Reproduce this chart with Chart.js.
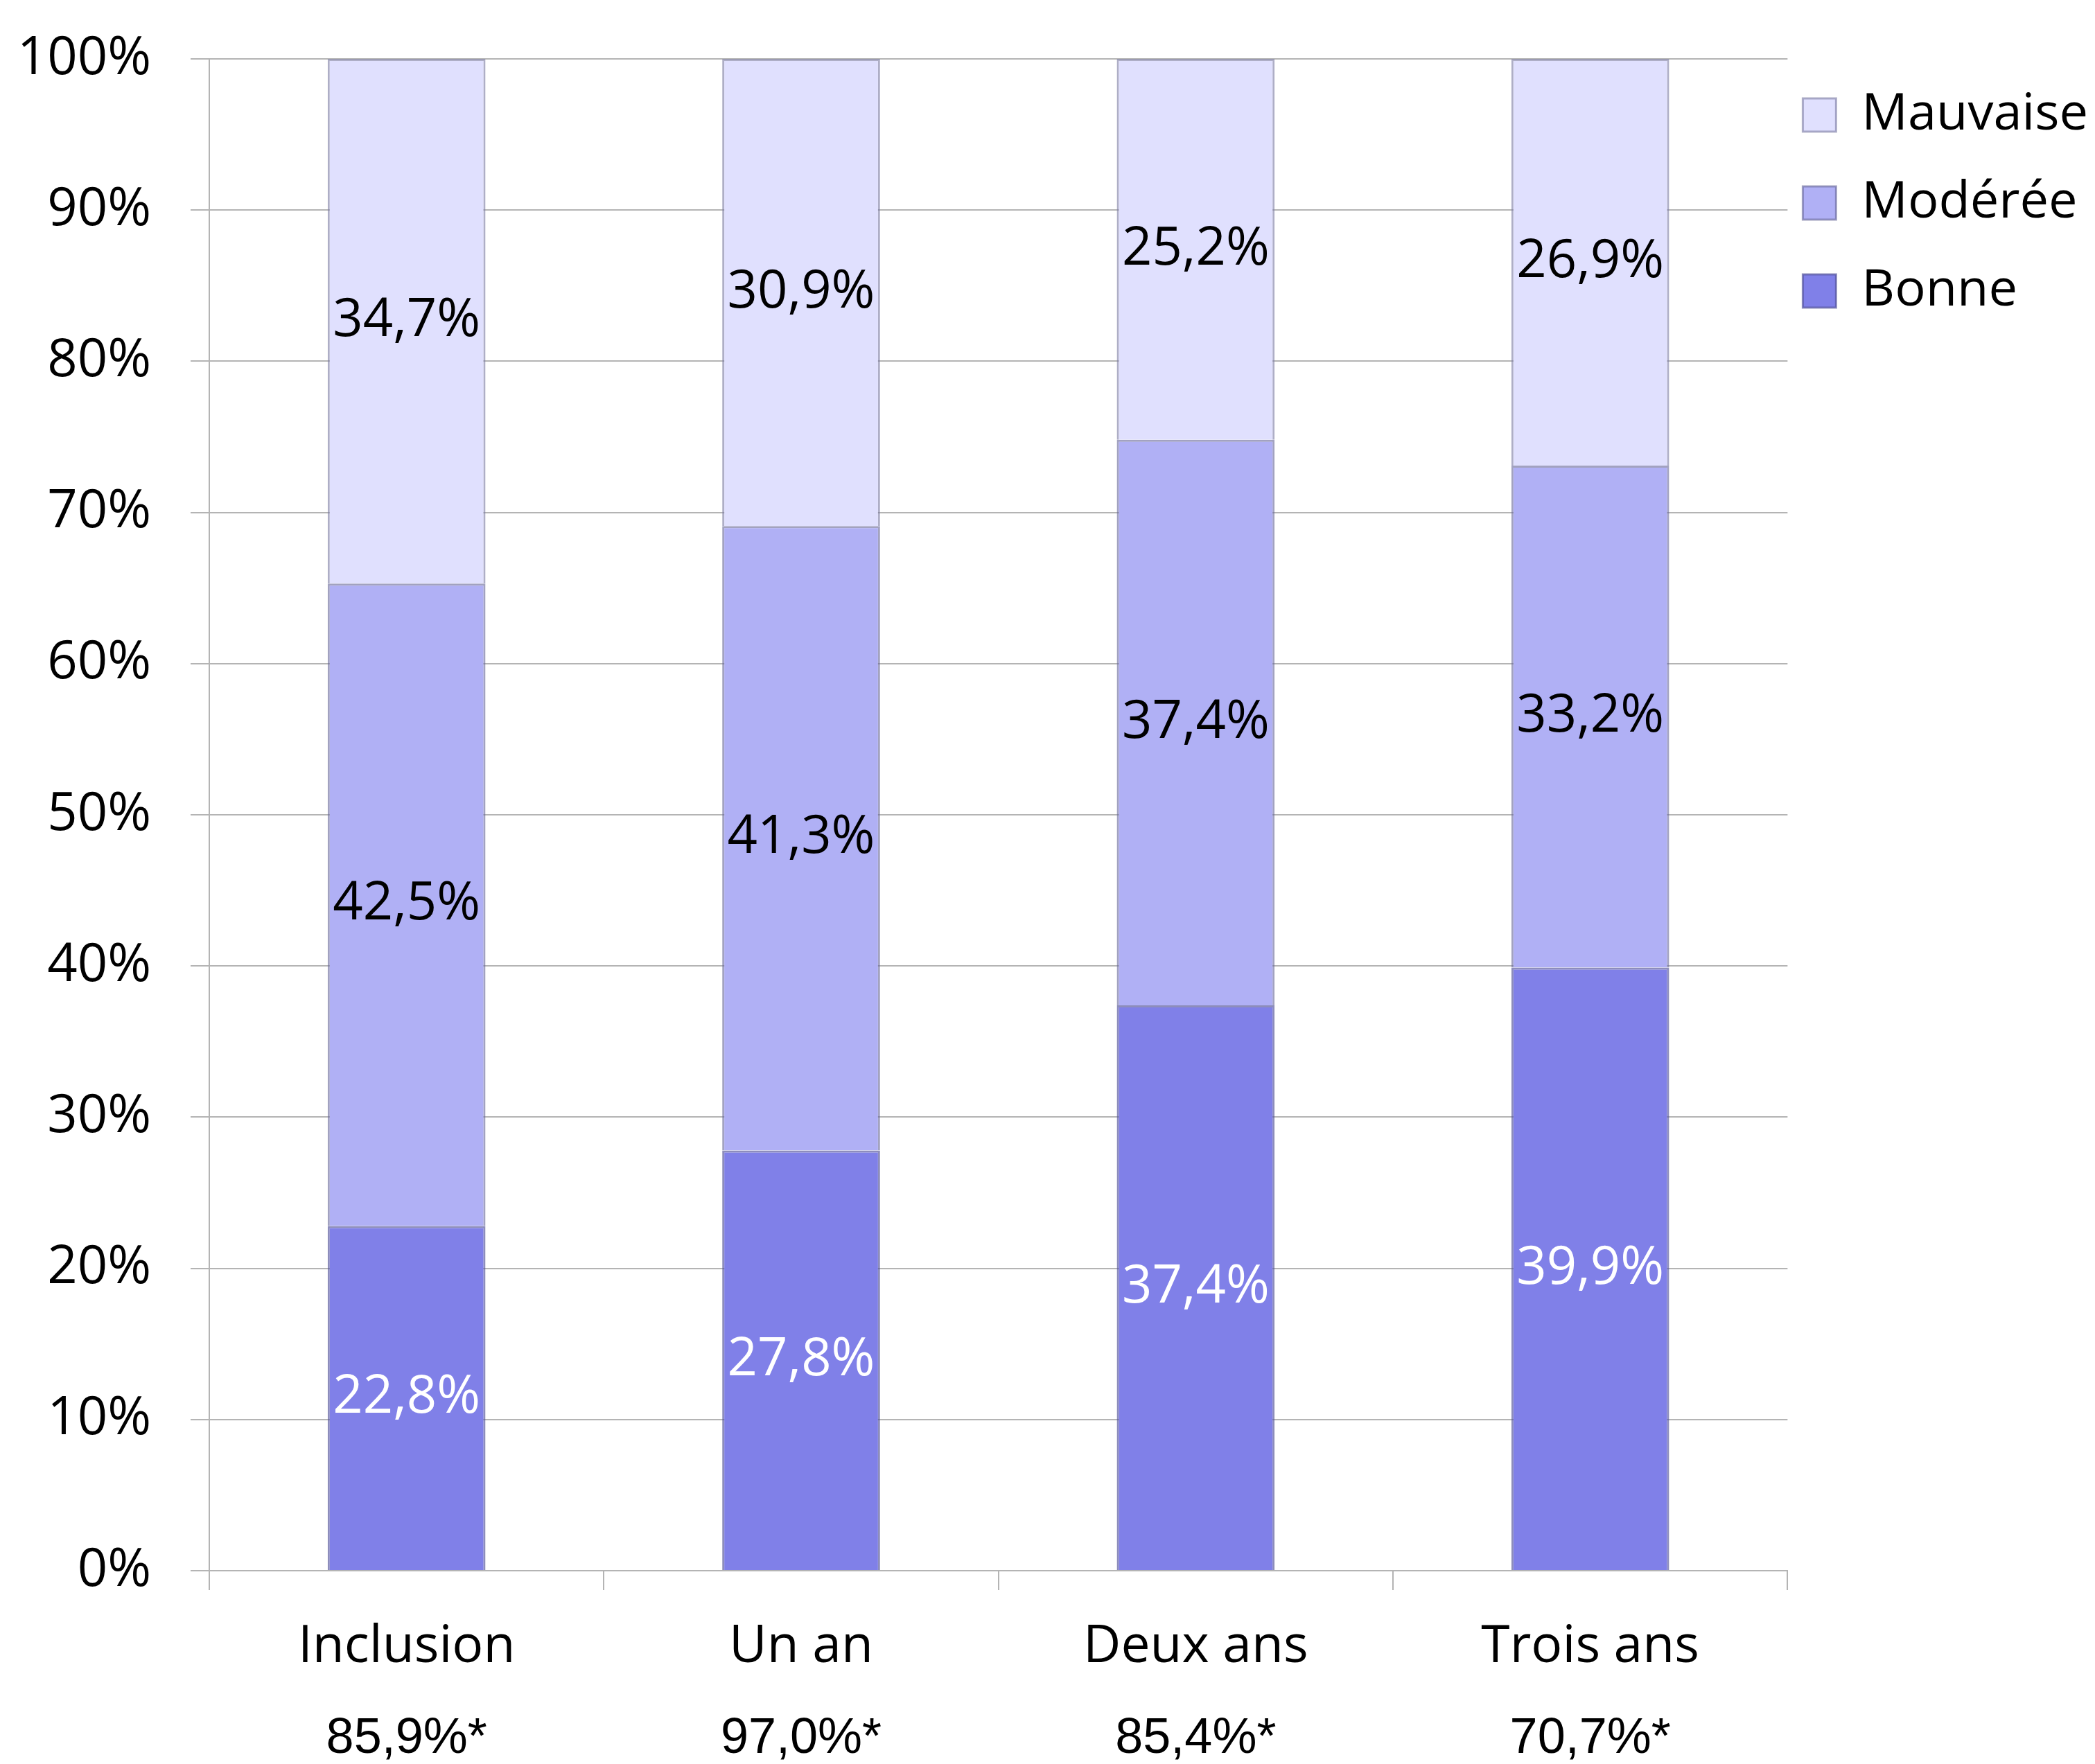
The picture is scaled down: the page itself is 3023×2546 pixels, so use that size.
<!DOCTYPE html>
<html>
<head>
<meta charset="utf-8">
<script src="https://cdn.jsdelivr.net/npm/chart.js@4/dist/chart.umd.min.js"></script>
<style>
  html,body{margin:0;padding:0;background:#fff;}
  #wrap{width:3023px;height:2546px;}
</style>
</head>
<body>
<div id="wrap"><canvas id="c" width="3023" height="2546"></canvas></div>
<script>
// données
const categories = ['Inclusion', 'Un an', 'Deux ans', 'Trois ans'];
const taux = ['85,9%*', '97,0%*', '85,4%*', '70,7%*'];
const bonne = [22.8, 27.8, 37.4, 39.9];
const moderee = [42.5, 41.3, 37.4, 33.2];
const mauvaise = [34.7, 30.9, 25.2, 26.9];
const yTicks = [0, 10, 20, 30, 40, 50, 60, 70, 80, 90, 100];

const fmt = v => v.toFixed(1).replace('.', ',') + '%';
const GRID = '#b4b4b4';

// étiquettes au centre de chaque segment
const segLabels = {
  id: 'segLabels',
  afterDatasetsDraw(chart){
    const ctx = chart.ctx;
    ctx.save();
    ctx.font = '76px "Open Sans"';
    ctx.textAlign = 'center';
    ctx.textBaseline = 'middle';
    chart.data.datasets.forEach((ds, i) => {
      const meta = chart.getDatasetMeta(i);
      if (meta.hidden) return;
      meta.data.forEach((bar, j) => {
        ctx.fillStyle = ds.labelColor;
        ctx.fillText(fmt(ds.data[j]), bar.x, (bar.y + bar.base) / 2);
      });
    });
    ctx.restore();
  }
};

// tailles d'axes fixes (pas de marge auto autour des étiquettes)
const fixBox = (w, h) => scale => {
  if (w != null) scale.width = w;
  if (h != null) scale.height = h;
  scale.paddingTop = 0; scale.paddingBottom = 0;
  scale.paddingLeft = 0; scale.paddingRight = 0;
};

Chart.defaults.font.family = '"Open Sans", sans-serif';
Chart.defaults.color = '#000';

new Chart(document.getElementById('c'), {
  type: 'bar',
  data: {
    labels: categories,
    datasets: [
      {label: 'Bonne', data: bonne, backgroundColor: '#8080e8', borderColor: 'rgba(80,80,150,0.65)', borderWidth: 3, labelColor: '#fff'},
      {label: 'Modérée', data: moderee, backgroundColor: '#b0b0f5', borderColor: 'rgba(100,100,150,0.6)', borderWidth: 3, labelColor: '#000'},
      {label: 'Mauvaise', data: mauvaise, backgroundColor: '#e0e0fe', borderColor: 'rgba(120,120,160,0.6)', borderWidth: 3, labelColor: '#000'}
    ]
  },
  options: {
    responsive: false,
    animation: false,
    devicePixelRatio: 1,
    categoryPercentage: 0.4,
    barPercentage: 1,
    layout: {padding: {left: 0, top: 85, right: 0, bottom: 0}},
    plugins: {
      tooltip: {enabled: false},
      legend: {
        position: 'right',
        align: 'start',
        reverse: true,
        title: {display: true, text: ' ', font: {size: 20, lineHeight: 1.1}, padding: 0},
        labels: {
          font: {size: 74, lineHeight: 1.419},
          boxWidth: 48,
          boxHeight: 48,
          padding: 22,
          color: '#000',
          generateLabels: chart => Chart.defaults.plugins.legend.labels.generateLabels(chart).map(l => Object.assign(l, {text: [l.text]}))
        }
      }
    },
    scales: {
      x: {
        stacked: true,
        weight: 0,
        afterFit: fixBox(null, 155),
        grid: {display: true, drawOnChartArea: false, drawTicks: true, tickLength: 28, color: GRID, lineWidth: 2},
        border: {display: true, color: GRID, width: 2},
        ticks: {font: {size: 75}, padding: 38, color: '#000'}
      },
      x2: {
        type: 'category',
        labels: taux,
        position: 'bottom',
        weight: 1,
        afterFit: fixBox(null, 124),
        grid: {display: false, drawTicks: false},
        border: {display: false},
        ticks: {font: {family: '"Liberation Sans", Arial, sans-serif', size: 72, lineHeight: 1}, padding: 52, color: '#000'}
      },
      y: {
        stacked: true,
        min: 0,
        max: 100,
        afterFit: fixBox(302, null),
        afterBuildTicks: axis => { axis.ticks = yTicks.map(v => ({value: v})); },
        grid: {color: GRID, lineWidth: 2, tickLength: 27},
        border: {display: true, color: GRID, width: 2},
        ticks: {font: {size: 76}, padding: 57, color: '#000', callback: v => v + '%'}
      }
    }
  },
  plugins: [segLabels]
});
</script>
</body>
</html>
